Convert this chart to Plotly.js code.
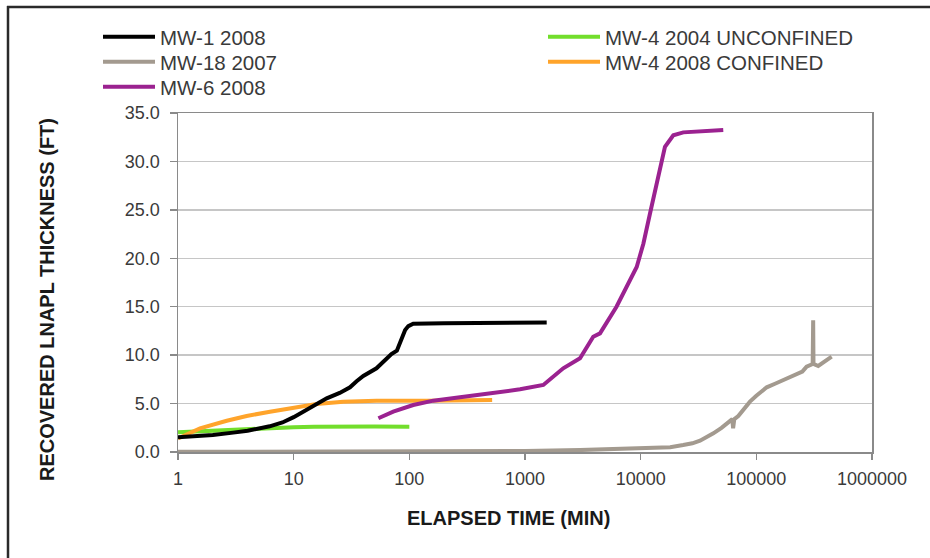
<!DOCTYPE html>
<html>
<head>
<meta charset="utf-8">
<script src="https://cdn.plot.ly/plotly-3.0.1.min.js"></script>
<style>html,body{margin:0;padding:0;background:#fff;}#chart{width:930px;height:558px;}</style>
</head>
<body>
<div id="chart"></div>
<script>
// ---- data ----
const xTickVals = [1, 10, 100, 1000, 10000, 100000, 1000000];
const xTickText = ["1", "10", "100", "1000", "10000", "100000", "1000000"];

const mw1Name = "MW-1 2008";
const mw1X = [1, 1.5, 2, 3, 4, 6.2, 8, 10, 12, 15.8, 19.3, 25, 30.7, 35, 40, 52, 62, 70, 78, 82, 86, 92, 98, 108, 200, 500, 1000, 1540];
const mw1Y = [1.52, 1.6, 1.75, 2.0, 2.2, 2.65, 3.05, 3.6, 4.15, 4.96, 5.54, 6.1, 6.68, 7.3, 7.85, 8.64, 9.5, 10.1, 10.46, 11.2, 11.9, 12.6, 13.0, 13.25, 13.3, 13.3, 13.35, 13.38];

const mw18Name = "MW-18 2007";
const mw18X = [1, 10, 100, 1000, 3000, 6000, 12000, 18000, 23300, 28000, 32600, 37000, 42500, 50000, 59200, 62000, 63000, 64500, 69800, 80000, 88100, 100000, 123000, 145000, 171000, 200000, 223000, 250000, 272000, 300000, 307000, 310000, 312000, 343000, 400000, 448000];
const mw18Y = [0.02, 0.03, 0.05, 0.1, 0.2, 0.28, 0.38, 0.5, 0.72, 0.9, 1.17, 1.5, 1.93, 2.5, 3.13, 3.4, 2.44, 3.4, 3.72, 4.6, 5.2, 5.8, 6.68, 7.05, 7.43, 7.8, 8.05, 8.3, 8.81, 9.0, 9.09, 13.6, 9.1, 8.88, 9.4, 9.84];

const mw6Name = "MW-6 2008";
const mw6X = [54, 72.6, 108, 161, 274, 532, 906, 1440, 2000, 2140, 2990, 3890, 4450, 6180, 9240, 10550, 12030, 13740, 16220, 19150, 23360, 51760];
const mw6Y = [3.48, 4.16, 4.85, 5.3, 5.65, 6.12, 6.47, 6.92, 8.29, 8.64, 9.67, 11.9, 12.25, 15.0, 19.1, 21.5, 24.6, 27.7, 31.5, 32.7, 33.0, 33.25];

const mw4uName = "MW-4 2004 UNCONFINED";
const mw4uX = [1, 1.5, 2, 3, 4, 6, 10, 15, 20, 50, 100];
const mw4uY = [2.05, 2.15, 2.22, 2.32, 2.4, 2.5, 2.55, 2.6, 2.62, 2.62, 2.6];

const mw4cName = "MW-4 2008 CONFINED";
const mw4cX = [1, 1.55, 2.64, 3.92, 6.24, 9.95, 15.8, 26.8, 52, 141, 300, 520];
const mw4cY = [1.41, 2.44, 3.23, 3.72, 4.16, 4.61, 4.96, 5.19, 5.3, 5.3, 5.33, 5.37];

// ---- layout geometry (pixels) ----
const W = 930, H = 558, L = 178, R = 872, T = 113, B = 452;
const pw = R - L, ph = B - T;
const px = v => (v - L) / pw;
const py = v => (B - v) / ph;

const font = "Liberation Sans, Arial, sans-serif";
const lw = 4;

const traces = [
  {x: mw18X, y: mw18Y, name: mw18Name, legend: "legend2", line: {color: "#a39a8f", width: lw}},
  {x: mw4uX, y: mw4uY, name: mw4uName, legend: "legend4", line: {color: "#72de2c", width: lw}},
  {x: mw4cX, y: mw4cY, name: mw4cName, legend: "legend5", line: {color: "#ffa42b", width: lw}},
  {x: mw1X, y: mw1Y, name: mw1Name, legend: "legend", line: {color: "#000000", width: lw}},
  {x: mw6X, y: mw6Y, name: mw6Name, legend: "legend3", line: {color: "#9b2290", width: lw}}
].map(t => Object.assign({type: "scatter", mode: "lines", hoverinfo: "skip"}, t));

const legendCommon = {
  font: {family: font, size: 20.5, color: "#3a3a3a"},
  orientation: "v", xanchor: "left", yanchor: "top",
  bgcolor: "rgba(0,0,0,0)", borderwidth: 0, itemwidth: 52,
  traceorder: "normal", itemclick: false
};
const leg = (x, y) => Object.assign({}, legendCommon, {x: px(x), y: py(y)});

const layout = {
  width: W, height: H,
  margin: {l: L, r: W - R, t: T, b: H - B, pad: 0},
  paper_bgcolor: "#ffffff", plot_bgcolor: "#ffffff",
  showlegend: true,
  legend: leg(98, 17),
  legend2: leg(98, 42),
  legend3: leg(98, 67),
  legend4: leg(543, 17),
  legend5: leg(543, 42),
  xaxis: {
    type: "log", range: [0, 6],
    tickvals: xTickVals, ticktext: xTickText,
    ticks: "outside", ticklen: 6, tickwidth: 1.5, tickcolor: "#8a8a8a",
    showgrid: false, zeroline: false,
    showline: true, linecolor: "#8a8a8a", linewidth: 1.5, mirror: true,
    tickfont: {family: font, size: 18, color: "#3a3a3a"},
    ticklabelstandoff: 4
  },
  yaxis: {
    range: [0, 35], dtick: 5, tick0: 0, tickformat: ".1f",
    ticks: "outside", ticklen: 7, tickwidth: 1.5, tickcolor: "#8a8a8a",
    showgrid: true, gridcolor: "#c6c6c6", gridwidth: 1.5,
    zeroline: false,
    showline: true, linecolor: "#8a8a8a", linewidth: 1.5, mirror: true,
    tickfont: {family: font, size: 18, color: "#3a3a3a"},
    ticklabelstandoff: 6
  },
  annotations: [
    {text: "<b>ELAPSED TIME (MIN)</b>", xref: "paper", yref: "paper",
     x: px(508), y: py(518), xanchor: "center", yanchor: "middle", showarrow: false,
     font: {family: font, size: 20, color: "#1a1a1a"}},
    {text: "<b>RECOVERED LNAPL THICKNESS (FT)</b>", xref: "paper", yref: "paper",
     x: px(47), y: py(300), xanchor: "center", yanchor: "middle", showarrow: false, textangle: -90,
     font: {family: font, size: 20, color: "#1a1a1a"}}
  ],
  shapes: [
    {type: "line", xref: "paper", yref: "paper", x0: px(8), x1: px(8), y0: py(H + 2), y1: py(6),
     line: {color: "#2a2a2a", width: 2.5}},
    {type: "line", xref: "paper", yref: "paper", x0: px(7), x1: px(W + 2), y0: py(7), y1: py(7),
     line: {color: "#2a2a2a", width: 2.5}}
  ]
};

Plotly.newPlot("chart", traces, layout, {staticPlot: true, displayModeBar: false});
</script>
</body>
</html>
